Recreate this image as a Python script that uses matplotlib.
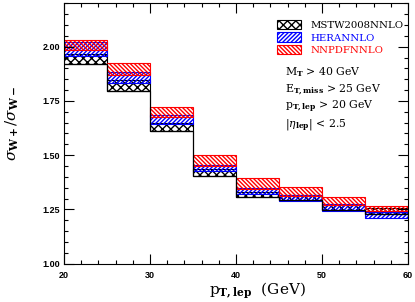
import numpy as np
import matplotlib
matplotlib.use('Agg')
from matplotlib import pyplot as plt
from matplotlib.patches import Patch
from matplotlib.ticker import MultipleLocator

# bin edges in p_T,lep (GeV) and ratio bands
edges = [20, 25, 30, 35, 40, 45, 50, 55, 60]
mstw_lo = [1.919, 1.797, 1.613, 1.406, 1.309, 1.292, 1.248, 1.228]
mstw_hi = [1.965, 1.845, 1.650, 1.435, 1.330, 1.315, 1.272, 1.255]
hera_lo = [1.955, 1.835, 1.645, 1.425, 1.322, 1.289, 1.245, 1.209]
hera_hi = [2.020, 1.885, 1.685, 1.455, 1.350, 1.315, 1.275, 1.240]
nnpdf_lo = [1.985, 1.870, 1.675, 1.450, 1.345, 1.310, 1.270, 1.245]
nnpdf_hi = [2.030, 1.926, 1.724, 1.503, 1.396, 1.355, 1.309, 1.266]

labels = ['MSTW2008NNLO', 'HERANNLO', 'NNPDFNNLO']
colors = ['black', '#0000ff', '#ff0000']
hatches = ['xxxx', '////////', '\\' * 8]

cuts = [r'M$_\mathbf{T}$ > 40 GeV',
        r'E$_\mathbf{T,miss}$ > 25 GeV',
        r'p$_\mathbf{T,lep}$ > 20 GeV',
        r'|$\eta_\mathbf{lep}$| < 2.5']

plt.rcParams['mathtext.fontset'] = 'dejavuserif'
plt.rcParams['hatch.linewidth'] = 1.0

fig = plt.figure(figsize=(4.15, 3.02), dpi=100)
ax = fig.add_axes([0.1542, 0.1268, 0.8289, 0.8623])

left = np.array(edges[:-1])
width = np.diff(edges)
bands = [(mstw_lo, mstw_hi), (hera_lo, hera_hi), (nnpdf_lo, nnpdf_hi)]
for (lo, hi), c, h in zip(bands, colors, hatches):
    lo = np.array(lo)
    hi = np.array(hi)
    ax.bar(left, hi - lo, width=width, bottom=lo, align='edge', fill=False,
           edgecolor=c, hatch=h, linewidth=0.8)
ax.stairs(mstw_lo, edges, baseline=None, color='black', linewidth=0.9)

ax.set_xlim(20, 60)
ax.set_ylim(1.0, 2.2)
ax.xaxis.set_major_locator(MultipleLocator(10))
ax.xaxis.set_minor_locator(MultipleLocator(2))
ax.yaxis.set_major_locator(MultipleLocator(0.25))
ax.yaxis.set_minor_locator(MultipleLocator(0.05))
ax.yaxis.set_major_formatter(matplotlib.ticker.FormatStrFormatter('%.2f'))
ax.tick_params(which='both', direction='in', top=True, right=True, width=0.8)
ax.tick_params(which='major', length=7)
ax.tick_params(which='minor', length=3)
ax.tick_params(axis='x', pad=5)
ax.tick_params(axis='y', pad=3)
for lab in ax.get_xticklabels() + ax.get_yticklabels():
    lab.set_fontfamily('Liberation Sans')
    lab.set_fontweight('bold')
    lab.set_fontsize(6.5)
for sp in ax.spines.values():
    sp.set_linewidth(0.8)

ax.set_xlabel(r'p$_\mathbf{T,lep}$  (GeV)', family='DejaVu Serif', fontsize=11)
ax.xaxis.set_label_coords(0.561, -0.065)
ax.set_ylabel(r'$\sigma_\mathbf{W+}/\sigma_\mathbf{W-}$', fontsize=11)
ax.yaxis.set_label_coords(-0.125, 0.54)

handles = [Patch(facecolor='none', edgecolor=c, hatch=h, linewidth=0.8)
           for c, h in zip(colors, hatches)]
ax.legend(handles, labels, loc='upper left', bbox_to_anchor=(0.619, 0.937),
          frameon=False, borderpad=0, borderaxespad=0, handlelength=2.4,
          handleheight=1.05, handletextpad=0.95, labelspacing=0.25,
          labelcolor=colors, prop={'family': 'DejaVu Serif', 'size': 7.3})

ys = [0.736, 0.667, 0.602, 0.533]
for t, y in zip(cuts, ys):
    ax.text(0.642, y, t, transform=ax.transAxes, family='DejaVu Serif',
            fontsize=7.8, va='center', ha='left')

fig.savefig('out.png', dpi=100)
